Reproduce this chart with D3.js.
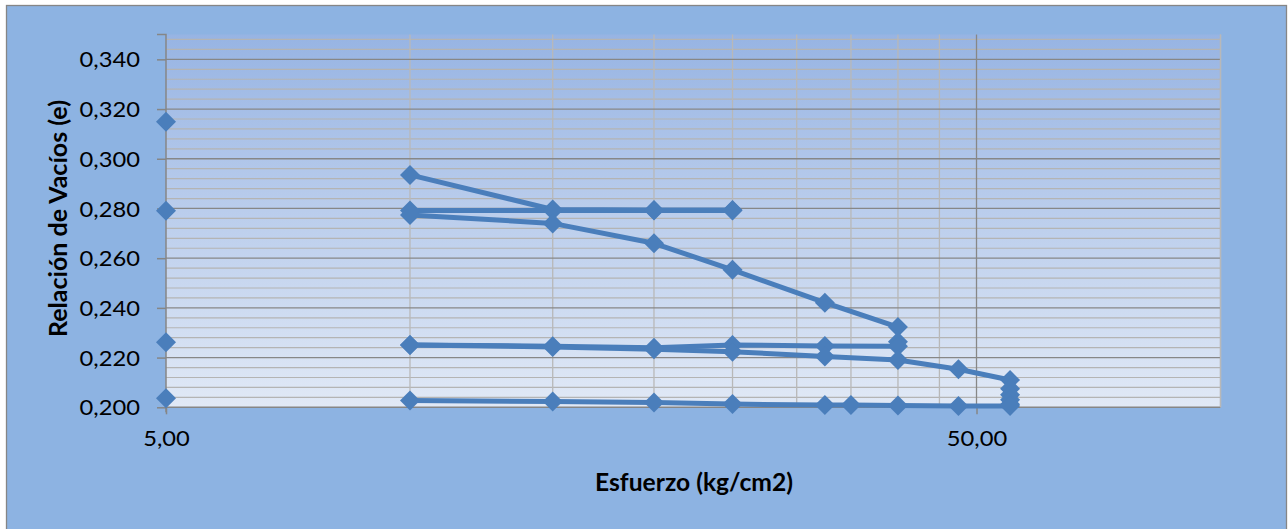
<!DOCTYPE html>
<html><head><meta charset="utf-8">
<script src="https://cdn.jsdelivr.net/npm/d3@7"></script>
<style>html,body{margin:0;padding:0;background:#fff;} svg{display:block;}</style>
</head><body>
<svg id="c" width="1288" height="529"></svg>
<script>
// ---- data ----
const xTicks = [5, 50];
const xTickLabels = ["5,00", "50,00"];
const yTicks = [0.200, 0.220, 0.240, 0.260, 0.280, 0.300, 0.320, 0.340];
const yTickLabels = ["0,200", "0,220", "0,240", "0,260", "0,280", "0,300", "0,320", "0,340"];
const xMinorGrid = [10, 15, 20, 25, 30, 35, 40, 45, 100];

const leftX = [5, 5, 5, 5];
const leftY = [0.3149, 0.2791, 0.2262, 0.2036];

const s1X = [10, 15, 20, 25];
const s1Y = [0.2935, 0.2796, 0.2794, 0.2794];
const s2X = [25, 20, 15, 10];
const s2Y = [0.2792, 0.2792, 0.2792, 0.2792];
const s3X = [10, 15, 20, 25, 32.5, 40];
const s3Y = [0.2774, 0.2740, 0.2660, 0.2553, 0.2421, 0.2323];
const s4X = [40, 40, 32.5, 25, 20, 15, 10];
const s4Y = [0.2264, 0.2246, 0.2247, 0.2251, 0.2240, 0.2246, 0.2251];
const s5X = [10, 15, 20, 25, 32.5, 40, 47.5, 55];
const s5Y = [0.2251, 0.2243, 0.2234, 0.2224, 0.2204, 0.2190, 0.2153, 0.2110];
const s6X = [55, 55, 55, 55, 55, 47.5, 40, 35, 32.5, 25, 20, 15, 10];
const s6Y = [0.2075, 0.2050, 0.2030, 0.2012, 0.2005, 0.2005, 0.2007, 0.2009, 0.2009, 0.2013, 0.2019, 0.2023, 0.2027];

const xTitle = "Esfuerzo (kg/cm2)";
const yTitle = "Relación de Vacíos (e)";

// ---- layout ----
const L = 166, R = 1220.5, T = 34.5, B = 407.3;
const x = d3.scaleLog().domain([5, 100]).range([L, R]);
const y = d3.scaleLinear().domain([0.2, 0.35]).range([B, T]);
const blue = "#4a7ebb";
const FONT = "Lato, 'Open Sans', sans-serif";

const svg = d3.select("#c");
const defs = svg.append("defs");
const g = defs.append("linearGradient").attr("id", "pg").attr("x1", 0).attr("y1", 0).attr("x2", 0).attr("y2", 1);
g.append("stop").attr("offset", "0%").attr("stop-color", "#97b4e3");
g.append("stop").attr("offset", "100%").attr("stop-color", "#e1e9f6");

// chart area
svg.append("rect").attr("x", 6.5).attr("y", 5.5).attr("width", 1280).attr("height", 535)
  .attr("fill", "#8db3e2").attr("stroke", "#868686").attr("stroke-width", 1.3);

// plot area
svg.append("rect").attr("x", L).attr("y", T).attr("width", R - L).attr("height", B - T).attr("fill", "url(#pg)");

// horizontal minor gridlines
const minorY = [];
for (let i = 1; i <= 37; i++) { if (i % 5 !== 0) minorY.push(0.2 + i * 0.004); }
svg.append("g").selectAll("line").data(minorY).join("line")
  .attr("x1", L).attr("x2", R).attr("y1", d => y(d)).attr("y2", d => y(d))
  .attr("stroke", "#b4b4b4").attr("stroke-width", 1.2);
// vertical minor gridlines
svg.append("g").selectAll("line").data(xMinorGrid).join("line")
  .attr("x1", d => x(d)).attr("x2", d => x(d)).attr("y1", T).attr("y2", B)
  .attr("stroke", "#b8b8b8").attr("stroke-width", 1.3);
// major gridlines
svg.append("g").selectAll("line").data(yTicks.slice(1)).join("line")
  .attr("x1", L).attr("x2", R).attr("y1", d => y(d)).attr("y2", d => y(d))
  .attr("stroke", "#878787").attr("stroke-width", 1.3);
svg.append("g").selectAll("line").data([50]).join("line")
  .attr("x1", d => x(d)).attr("x2", d => x(d)).attr("y1", T).attr("y2", B)
  .attr("stroke", "#878787").attr("stroke-width", 1.3);

// axes
const yAxis = d3.axisLeft(y).tickValues(yTicks).tickSize(9).tickPadding(17)
  .tickFormat((d, i) => yTickLabels[i]);
const ya = svg.append("g").attr("transform", `translate(${L},0)`).call(yAxis);
ya.select(".domain").attr("stroke", "#868686").attr("stroke-width", 1.5).attr("d", `M-9,${T}H0V${B + 5}`);
ya.selectAll(".tick line").attr("stroke", "#868686").attr("stroke-width", 1.5);
ya.selectAll(".tick text").attr("font-family", FONT).attr("font-size", 21).attr("fill", "#000")
  .attr("dy", "0.36em");

const xAxis = d3.axisBottom(x).tickValues(xTicks).tickSize(7).tickPadding(10)
  .tickFormat((d, i) => xTickLabels[i]);
const xa = svg.append("g").attr("transform", `translate(0,${B})`).call(xAxis);
xa.select(".domain").attr("stroke", "#868686").attr("stroke-width", 1.5).attr("d", `M${L},0H${R}`);
xa.selectAll(".tick line").attr("stroke", "#868686").attr("stroke-width", 1.5);
xa.selectAll(".tick text").attr("font-family", FONT).attr("font-size", 21).attr("fill", "#000")
  .attr("y", 38.8).attr("dy", 0);

// right border of plot
svg.append("line").attr("x1", R).attr("x2", R).attr("y1", T).attr("y2", B).attr("stroke", "#b8b8b8").attr("stroke-width", 1.3);

// widen tick labels to match reference proportions
svg.selectAll(".tick text").each(function () {
  const w = this.getComputedTextLength();
  d3.select(this).attr("textLength", w * 1.13).attr("lengthAdjust", "spacingAndGlyphs");
});

// titles
svg.append("text").attr("x", 694).attr("y", 491).attr("text-anchor", "middle")
  .attr("font-family", FONT).attr("font-weight", "bold").attr("font-size", 24).attr("fill", "#000")
  .attr("textLength", 198).attr("lengthAdjust", "spacingAndGlyphs").text(xTitle);
svg.append("text").attr("transform", "translate(66.5,218.5) rotate(-90)").attr("text-anchor", "middle")
  .attr("font-family", FONT).attr("font-weight", "bold").attr("font-size", 24).attr("fill", "#000")
  .attr("textLength", 237).attr("lengthAdjust", "spacingAndGlyphs").text(yTitle);

// series
const zip = (xs, ys) => xs.map((v, i) => [v, ys[i]]);
const series = [zip(s1X, s1Y), zip(s2X, s2Y), zip(s3X, s3Y), zip(s4X, s4Y), zip(s5X, s5Y), zip(s6X, s6Y)];
const line = d3.line().x(d => x(d[0])).y(d => y(d[1]));
const sym = d3.symbol().type(d3.symbolSquare).size(200);
const plot = svg.append("g");
series.forEach(s => {
  plot.append("path").attr("d", line(s)).attr("fill", "none").attr("stroke", blue)
    .attr("stroke-width", 5).attr("stroke-linejoin", "round");
  plot.append("g").selectAll("path").data(s).join("path")
    .attr("d", sym).attr("transform", d => `translate(${x(d[0])},${y(d[1])}) rotate(45)`)
    .attr("fill", blue);
});
plot.append("g").selectAll("path").data(zip(leftX, leftY)).join("path")
  .attr("d", sym).attr("transform", d => `translate(${x(d[0])},${y(d[1])}) rotate(45)`)
  .attr("fill", blue);
</script>
</body></html>
